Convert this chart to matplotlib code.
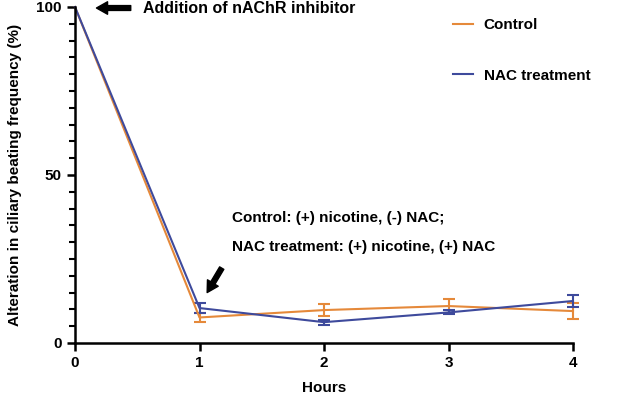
import matplotlib.pyplot as plt
from matplotlib.lines import Line2D
from matplotlib.ticker import MultipleLocator

plt.rcParams['font.family'] = ['Liberation Sans', 'DejaVu Sans']
plt.rcParams['font.weight'] = 'bold'

# data
hours = [0, 1, 2, 3, 4]
control = [100, 7.6, 9.8, 11.0, 9.5]
control_err = [0, 1.3, 1.7, 2.0, 2.4]
nac = [100, 10.4, 6.2, 9.1, 12.5]
nac_err = [0, 1.5, 0.7, 0.6, 1.9]
series_names = ['Control', 'NAC treatment']

orange = '#E5893A'
blue = '#3E4A9C'

fig = plt.figure(figsize=(6.33, 3.97), dpi=100)
ax = fig.add_axes([75/633, 1-343/397, 498/633, 336/397])

# no error bar at the baseline point (t=0)
ax.errorbar(hours, control, yerr=control_err, color=orange, lw=1.5, errorevery=(1, 1),
            capsize=4.5, capthick=1.5, elinewidth=1.5, clip_on=False)
ax.errorbar(hours, nac, yerr=nac_err, color=blue, lw=1.5, errorevery=(1, 1),
            capsize=4.5, capthick=1.5, elinewidth=1.5, clip_on=False)

ax.set_xlim(0, 4)
ax.set_ylim(0, 100)
ax.set_xticks(hours)
ax.set_yticks([0, 50, 100])
ax.yaxis.set_minor_locator(MultipleLocator(5))
for s in ['top', 'right']:
    ax.spines[s].set_visible(False)
for s in ['left', 'bottom']:
    ax.spines[s].set_linewidth(1.8)
ax.tick_params(axis='both', which='major', width=1.8, length=6, labelsize=11)
ax.tick_params(axis='y', which='minor', width=1.5, length=4)
ax.set_xlabel('Hours', fontsize=11, fontweight='bold', labelpad=8)
ax.set_ylabel('Alteration in ciliary beating frequency (%)', fontsize=11, fontweight='bold', labelpad=10)

# annotations
arrow = dict(arrowstyle='simple,head_width=0.9,head_length=0.8,tail_width=0.35', color='black')
ax.annotate('', xy=(0.15, 99.7), xytext=(0.47, 99.7), arrowprops=arrow, annotation_clip=False)
ax.text(0.55, 99.5, 'Addition of nAChR inhibitor', fontsize=11.5, fontweight='bold', va='center')
ax.annotate('', xy=(1.05, 14.3), xytext=(1.19, 23.0), arrowprops=arrow)
ax.text(1.26, 37.3, 'Control: (+) nicotine, (-) NAC;', fontsize=11, fontweight='bold', va='center')
ax.text(1.26, 28.6, 'NAC treatment: (+) nicotine, (+) NAC', fontsize=11, fontweight='bold', va='center')

handles = [Line2D([], [], color=orange, lw=1.5), Line2D([], [], color=blue, lw=1.5)]
ax.legend(handles, series_names, loc='upper left',
          bbox_to_anchor=(447/633, 1-12/397), bbox_transform=fig.transFigure,
          frameon=False, labelspacing=2.4, handlelength=1.3, handletextpad=0.7,
          borderaxespad=0, prop={'size': 11, 'weight': 'bold'})

fig.savefig('out.png', dpi=100)
